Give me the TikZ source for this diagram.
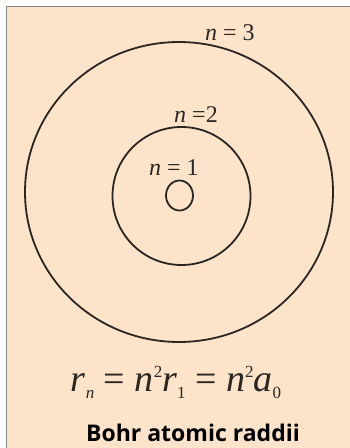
\documentclass[tikz,border=0pt]{standalone}
\usepackage{fontspec}
\usetikzlibrary{shapes.geometric}
\setmainfont{Liberation Serif}
\newfontfamily\capfont{Open Sans}
\definecolor{peach}{HTML}{FCE3C9}
\definecolor{ink}{HTML}{2B2622}
\definecolor{frame}{HTML}{8A8680}
\tikzset{
  orbit/.style={draw=ink, line width=1.8pt},
  lbl/.style={text=ink, inner sep=0pt, font=\fontsize{24}{26}\selectfont},
}
\newcommand{\itn}{\textit{n}}
\newcommand{\sbs}[1]{\raisebox{-7pt}{\fontsize{17}{17}\selectfont #1}}
\newcommand{\sps}[1]{\raisebox{14pt}{\fontsize{17}{17}\selectfont #1}}
\begin{document}
\begin{tikzpicture}[x=1pt,y=-1pt]
\useasboundingbox (0,0) rectangle (350,448);
\fill[white] (0,0) rectangle (350,448);
\fill[peach] (6.5,6.5) rectangle (350,448);
\draw[frame, line width=1.2pt] (6.5,448) -- (6.5,6.5) -- (350,6.5);
\node[orbit, ellipse, minimum width=308pt, minimum height=300pt, inner sep=0pt] (o3) at (179,192) {};
\node[orbit, circle, minimum size=138pt, inner sep=0pt] (o2) at (181.5,196) {};
\node[orbit, ellipse, minimum width=27pt, minimum height=30pt, inner sep=0pt] (o1) at (179.5,195.5) {};
\node[lbl] (l3) at (230,33) {\itn\ = 3};
\node[lbl] (l2) at (196,115) {\itn\ =2};
\node[lbl] (l1) at (174,168) {\itn\ = 1};
\node[text=ink, inner sep=0pt, font=\fontsize{38}{40}\selectfont] (f) at (176,382)
 {\textit{r}\sbs{\textit{n}} = \textit{n}\sps{2}\textit{r}\sbs{1} = \textit{n}\sps{2}\textit{a}\sbs{0}};
\node[text=black, inner sep=0pt, font=\capfont\bfseries\fontsize{23}{25}\selectfont, anchor=base] (t) at (193,441) {Bohr atomic raddii};
\end{tikzpicture}
\end{document}
